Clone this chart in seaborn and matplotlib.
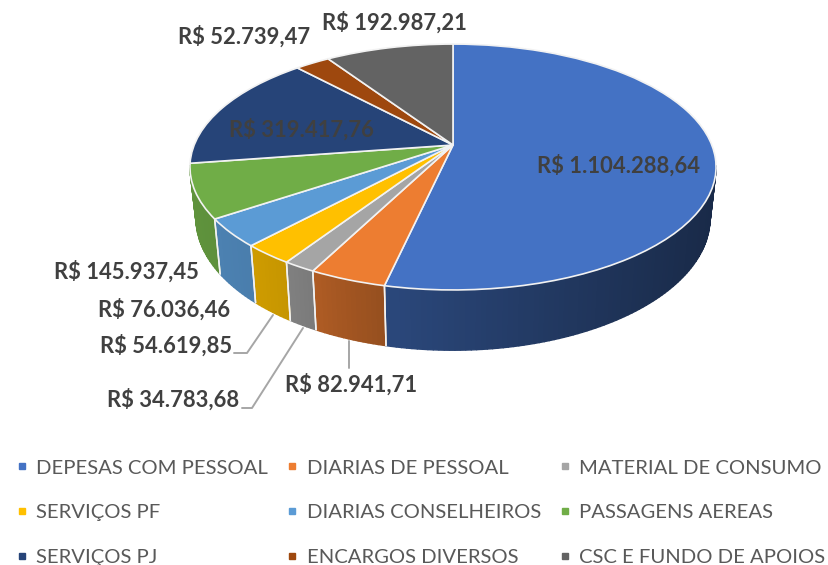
import numpy as np
import matplotlib
matplotlib.use("Agg")
import matplotlib.pyplot as plt
from matplotlib.transforms import Transform
from matplotlib.lines import Line2D
import seaborn as sns

categories = ["DEPESAS COM PESSOAL", "DIARIAS DE PESSOAL", "MATERIAL DE CONSUMO",
              "SERVIÇOS PF", "DIARIAS CONSELHEIROS", "PASSAGENS AEREAS",
              "SERVIÇOS PJ", "ENCARGOS DIVERSOS", "CSC E FUNDO DE APOIOS"]
values = [1104288.64, 82941.71, 34783.68, 54619.85, 76036.46, 145937.45,
          319417.76, 52739.47, 192987.21]
hex_colors = ["#4472C4", "#ED7D31", "#A5A5A5", "#FFC000", "#5B9BD5", "#70AD47",
              "#264478", "#9E480E", "#636363"]

sns.set_theme(style="white")
plt.rcParams["font.family"] = ["Lato", "DejaVu Sans"]
palette = sns.color_palette(hex_colors)

CX, CY, A, B, K, DEPTH, SHRINK = 453.0, 145.0, 258.8, 119.0, 0.179, 49.5, 0.977


def project(u, v):
    w = 1 + K * v
    return CX + A * u / w, CY - B * v / w


def lower(x, y, v):
    return CX + (x - CX) * SHRINK, y + DEPTH / (1 + K * v)


class Tilt(Transform):
    input_dims = output_dims = 2
    has_inverse = False
    is_separable = False

    def transform_non_affine(self, xy):
        xy = np.asarray(xy, float)
        x, y = project(xy[:, 0], xy[:, 1])
        return np.column_stack([x, y])


def money(v):
    s = f"{v:,.2f}".replace(",", "#").replace(".", ",").replace("#", ".")
    return "R$ " + s


fig = plt.figure(figsize=(8.29, 5.65), dpi=100, facecolor="white")
ax = fig.add_axes([0, 0, 1, 1])
wedges, _ = ax.pie(values, colors=palette, startangle=90, counterclock=False,
                   wedgeprops=dict(edgecolor="#f2f2f2", linewidth=1.2, zorder=5))
ax.set_aspect("auto")
ax.set_xlim(0, 829)
ax.set_ylim(565, 0)
ax.axis("off")
tilt = Tilt()
for w in wedges:
    w.set_transform(tilt + ax.transData)

# side wall of the disc: one strip per small arc, drawn without seams
shade_x = [190, 265, 300, 350, 385, 716]
shade_f = [0.85, 0.80, 0.76, 0.68, 0.63, 0.37]
for w, col in zip(wedges, palette):
    ths = np.radians(np.arange(w.theta1, w.theta2 + 1.0, 1.0))
    if len(ths) < 2:
        continue
    ths[-1] = np.radians(w.theta2)
    for t0, t1 in zip(ths[:-1], ths[1:]):
        u = np.cos([t0, t1]); v = np.sin([t0, t1])
        if v.min() > -K:
            continue
        x, y = project(u, v)
        xb, yb = lower(x, y, v)
        f = np.interp(x.mean(), shade_x, shade_f)
        c = tuple(np.array(col) * f)
        ax.fill([x[0], x[1], xb[1], xb[0]], [y[0], y[1], yb[1], yb[0]],
                facecolor=c, edgecolor=c, lw=1.0, zorder=2)
    for t in (w.theta1, w.theta2):
        u, v = np.cos(np.radians(t)), np.sin(np.radians(t))
        if v < -K:
            x, y = project(u, v)
            xb, yb = lower(x, y, v)
            ax.plot([x, xb], [y, yb], color="#f2f2f2", lw=1.1, zorder=3)

# leader lines
leaders = [([273, 247, 234], [315, 353, 353]),
           ([303, 252, 242], [328, 408, 408]),
           ([349, 349], [341, 368])]
for lx, ly in leaders:
    ax.plot(lx, ly, color="#A6A6A6", lw=1.4, zorder=1)

# data labels
label_xy = [(537, 166), (285, 385), (107, 400), (100, 346), (98, 310),
            (54, 272), (229, 130), (178, 37), (322, 23)]
for v, (x, y) in zip(values, label_xy):
    ax.text(x, y, money(v), ha="left", va="center", fontsize=15.8, fontweight="bold",
            color="#404040", zorder=8)

# legend, filled column by column to read row by row
order = [0, 3, 6, 1, 4, 7, 2, 5, 8]
handles = [Line2D([], [], ls="", marker="s", ms=5, color=palette[i]) for i in order]
ax.legend(handles, [categories[i] for i in order], ncol=3, loc="upper left",
          bbox_to_anchor=(0.0217, 0.187), bbox_transform=fig.transFigure, frameon=False,
          fontsize=14.6, labelcolor="#595959", handlelength=0.4, handletextpad=0.5,
          columnspacing=1.0, labelspacing=1.35, borderpad=0, borderaxespad=0)

fig.savefig("out.png", dpi=100, facecolor="white")
